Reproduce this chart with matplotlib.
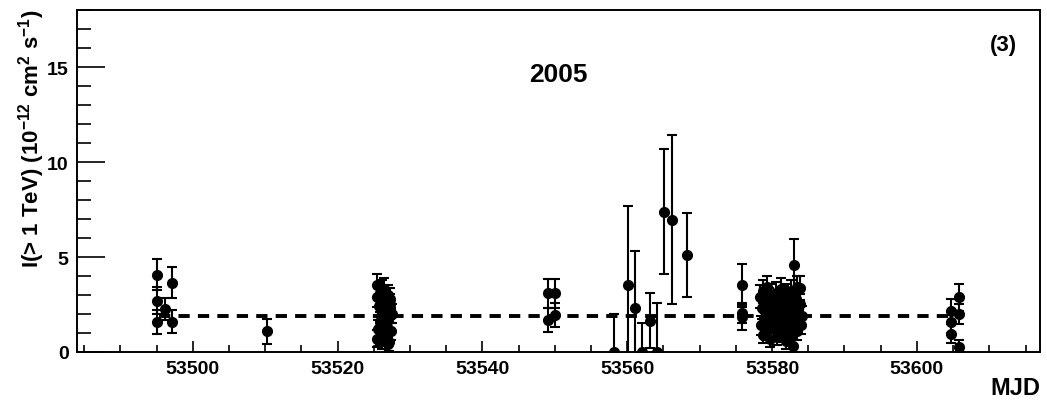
import numpy as np
import matplotlib
matplotlib.use('Agg')
import matplotlib.pyplot as plt
from matplotlib.ticker import MultipleLocator

plt.rcParams['font.family'] = ['Liberation Sans', 'DejaVu Sans']
plt.rcParams['font.weight'] = 'bold'
plt.rcParams['mathtext.fontset'] = 'custom'
plt.rcParams['mathtext.rm'] = 'Liberation Sans:bold'
plt.rcParams['mathtext.bf'] = 'Liberation Sans:bold'

# light curve points: MJD, flux (1e-12 cm-2 s-1), symmetric error
mjd = [
    # early June
    53495.1, 53495.1, 53495.1, 53496.1, 53497.1, 53497.1, 53510.2,
    # late June cluster
    53525.4, 53525.5, 53525.6, 53525.7, 53525.8, 53525.9, 53526.0, 53526.1,
    53526.2, 53526.3, 53526.4, 53526.5, 53526.6, 53526.7, 53526.8, 53526.9,
    53527.0, 53527.1, 53527.2, 53527.3, 53527.4, 53527.5, 53525.5, 53525.8,
    53526.1, 53526.4, 53526.7, 53527.0, 53527.3,
    # mid July
    53549.0, 53550.0, 53549.0, 53550.0,
    53558.2, 53560.1, 53561.1, 53562.1, 53563.1, 53564.1, 53565.1, 53566.2, 53568.2,
    # late July cluster
    53575.8, 53575.8, 53575.8,
    53578.4, 53578.5, 53578.6, 53578.7, 53578.8, 53578.9, 53579.0, 53579.1,
    53579.3, 53579.4, 53579.5, 53579.6, 53579.7, 53579.8, 53579.9, 53580.0,
    53580.3, 53580.4, 53580.5, 53580.6, 53580.7, 53580.8, 53580.9, 53581.0,
    53581.3, 53581.4, 53581.5, 53581.6, 53581.7, 53581.8, 53581.9, 53582.0,
    53582.3, 53582.4, 53582.5, 53582.6, 53582.7, 53582.8, 53582.9, 53583.0,
    53583.3, 53583.4, 53583.5, 53583.6, 53583.7, 53583.8, 53584.0, 53584.2,
    53583.0, 53583.9, 53582.9,
    # August
    53604.7, 53604.7, 53604.7, 53605.8, 53605.8, 53605.8,
]
flux = [
    4.07, 2.70, 1.58, 2.26, 3.65, 1.60, 1.09,
    3.50, 2.90, 1.20, 2.40, 0.80, 3.10, 1.90, 0.60,
    2.70, 1.50, 3.30, 2.10, 0.90, 2.60, 1.30, 3.00,
    1.70, 0.50, 2.30, 2.80, 1.10, 2.00, 0.70, 1.60,
    3.20, 1.00, 2.20, 0.40, 2.50,
    3.09, 3.09, 1.68, 1.95,
    0.00, 3.53, 2.30, 0.00, 1.65, 0.00, 7.39, 6.96, 5.10,
    3.50, 1.82, 2.05,
    2.90, 1.40, 2.30, 0.90, 3.20, 1.80, 2.60, 1.10,
    3.40, 2.00, 1.50, 2.80, 0.70, 2.40, 3.00, 1.70,
    2.20, 1.20, 3.10, 2.50, 0.80, 1.90, 2.70, 1.40,
    3.30, 2.10, 1.00, 2.90, 1.60, 2.30, 0.60, 3.00,
    1.80, 2.60, 1.30, 3.20, 2.00, 0.90, 2.40, 1.50,
    2.80, 1.10, 3.40, 2.20, 1.70, 2.50, 1.40, 1.90,
    4.60, 3.37, 0.33,
    2.18, 1.56, 0.95, 2.88, 2.00, 0.25,
]
err = [
    0.80, 0.70, 0.62, 0.58, 0.82, 0.60, 0.66,
    0.60, 0.55, 0.50, 0.55, 0.45, 0.55, 0.50, 0.45,
    0.55, 0.50, 0.60, 0.50, 0.45, 0.55, 0.50, 0.55,
    0.50, 0.45, 0.55, 0.55, 0.45, 0.50, 0.45, 0.50,
    0.60, 0.45, 0.50, 0.40, 0.55,
    0.75, 0.75, 0.65, 0.65,
    2.00, 4.14, 3.03, 1.53, 1.45, 2.56, 3.29, 4.44, 2.20,
    1.13, 0.65, 0.55,
    0.60, 0.50, 0.55, 0.45, 0.60, 0.50, 0.55, 0.45,
    0.60, 0.50, 0.50, 0.55, 0.45, 0.55, 0.60, 0.50,
    0.55, 0.45, 0.60, 0.55, 0.45, 0.50, 0.55, 0.50,
    0.60, 0.50, 0.45, 0.55, 0.50, 0.55, 0.45, 0.60,
    0.50, 0.55, 0.45, 0.60, 0.50, 0.45, 0.55, 0.50,
    0.55, 0.45, 0.60, 0.50, 0.50, 0.55, 0.45, 0.50,
    1.35, 0.65, 0.40,
    0.60, 0.55, 0.50, 0.70, 0.55, 0.40,
]
mean_flux = 1.9
mean_range = [53495.3, 53606.0]

fig = plt.figure(figsize=(10.47, 4.02), dpi=100)
ax = fig.add_axes([0.0735, 0.1219, 0.9198, 0.8507])

ax.errorbar(mjd, flux, yerr=err, fmt='o', color='black', ms=7,
            elinewidth=1.5, capsize=3.5, capthick=1.5, zorder=3)
ax.plot(mean_range, [mean_flux, mean_flux], color='black', lw=2.8,
        dashes=(2.9, 2.1), zorder=2)

ax.set_xlim(53484, 53617)
ax.set_ylim(0, 18)
ax.xaxis.set_major_locator(MultipleLocator(20))
ax.xaxis.set_minor_locator(MultipleLocator(5))
ax.yaxis.set_major_locator(MultipleLocator(5))
ax.yaxis.set_minor_locator(MultipleLocator(1))
ax.tick_params(axis='both', which='both', direction='in', top=False, right=False,
               labelsize=14, width=1.2)
ax.tick_params(axis='y', which='major', length=20, pad=6)
ax.tick_params(axis='y', which='minor', length=10)
ax.tick_params(axis='x', which='major', length=8, pad=6)
ax.tick_params(axis='x', which='minor', length=5)
for lab in ax.get_xticklabels() + ax.get_yticklabels():
    lab.set_fontweight('bold')
for sp in ax.spines.values():
    sp.set_linewidth(1.4)

fig.text(32 / 1047, 1 - 10 / 402,
         r'I(> 1 TeV) (10$^{\mathbf{-12}}$ cm$^{\mathbf{2}}$ s$^{\mathbf{-1}}$)',
         rotation=90, ha='center', va='top', fontsize=16, fontweight='bold')
fig.text(1040 / 1047, 1 - 389 / 402, 'MJD', ha='right', va='center',
         fontsize=17, fontweight='bold')
fig.text(558 / 1047, 1 - 75.5 / 402, '2005', ha='center', va='center',
         fontsize=19, fontweight='bold')
fig.text(1003 / 1047, 1 - 45 / 402, '(3)', ha='center', va='center',
         fontsize=16, fontweight='bold')

fig.savefig('out.png', dpi=100)
